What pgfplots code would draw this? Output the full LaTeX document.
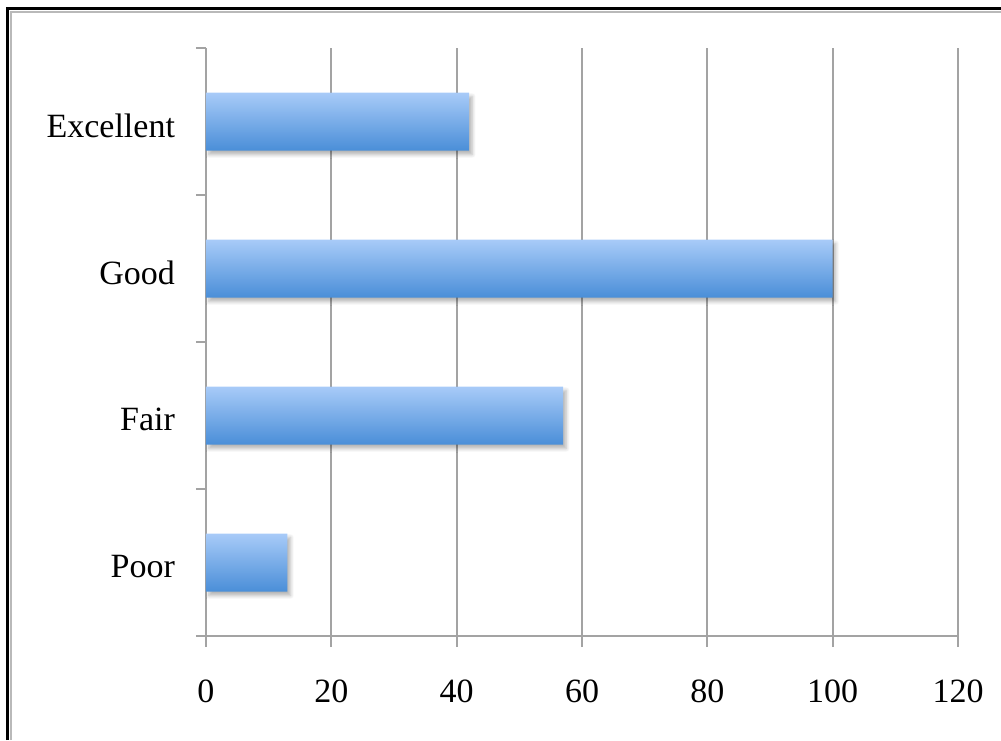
\documentclass[border=0pt]{standalone}
\usepackage{pgfplots}
\pgfplotsset{compat=1.18}
\usepackage{fontspec}
\setmainfont{Liberation Serif}
\usetikzlibrary{shadows.blur}
\definecolor{gridgray}{HTML}{A3A3A3}
\definecolor{bartop}{HTML}{A8CBF8}
\definecolor{barbot}{HTML}{4A8ED8}
\pgfplotsset{
  % each bar is its own plot so that the gradient runs across each bar
  hbar/.style={xbar, bar width=29pt, bar shift=0pt, draw=none,
    top color=bartop, bottom color=barbot,
    blur shadow={shadow xshift=1.5pt, shadow yshift=-2pt, shadow blur steps=6, shadow opacity=30}},
}
\begin{document}
\begin{tikzpicture}
% page frame
\path[use as bounding box] (-103pt,-52pt) rectangle (397.5pt,318pt);
\draw[gray!55, line width=1.3pt] (-97.5pt,-52pt) -- (-97.5pt,312pt) -- (397.5pt,312pt);
\draw[black, line width=1.6pt] (-99.3pt,-52pt) -- (-99.3pt,313.7pt) -- (397.5pt,313.7pt);
\begin{axis}[
  at={(0,0)}, anchor=south west,
  scale only axis, width=376pt, height=294pt,
  xmin=0, xmax=120, ymin=-0.5, ymax=3.5,
  axis x line=bottom, axis y line=left,
  axis line style={-, gridgray, line width=1pt},
  xtick={0,20,...,120},
  ytick={0,1,2,3}, yticklabels={Poor,Fair,Good,Excellent},
  minor ytick={-0.5,0.5,1.5,2.5,3.5},
  tick align=outside, major tick length=5.5pt, minor tick length=5pt,
  tick style={gridgray, line width=1pt},
  major y tick style={draw=none},
  xmajorgrids, grid style={gridgray, line width=1pt},
  font=\fontsize{17}{20}\selectfont,
  /pgf/number format/assume math mode=true,
  xticklabel style={yshift=-13pt},
  yticklabel style={xshift=-6.5pt, yshift=-2pt},
]
\addplot[hbar] coordinates {(13,0) (13,0)};
\addplot[hbar] coordinates {(57,1) (57,1)};
\addplot[hbar] coordinates {(100,2) (100,2)};
\addplot[hbar] coordinates {(42,3) (42,3)};
\end{axis}
\end{tikzpicture}
\end{document}
